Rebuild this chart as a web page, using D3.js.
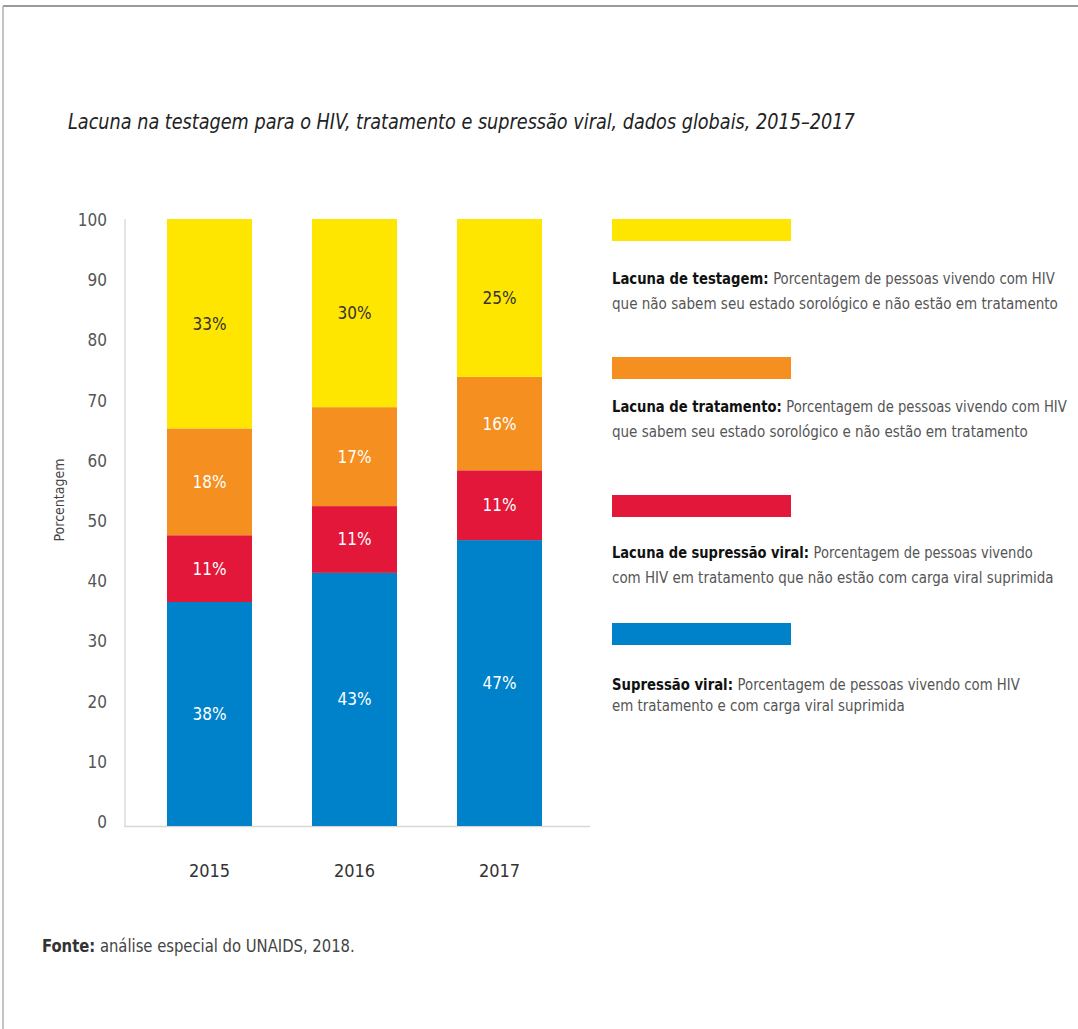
<!DOCTYPE html>
<html>
<head>
<meta charset="utf-8">
<script src="https://cdn.jsdelivr.net/npm/d3@7"></script>
<style>
  html, body { margin: 0; padding: 0; background: #fff; }
  svg { display: block; }
  text { font-family: "Liberation Sans Narrow", "DejaVu Sans Condensed", "Roboto", sans-serif; }
</style>
</head>
<body>
<svg id="chart" width="1078" height="1029"></svg>
<script>
// ---- data ----
const years = ["2015", "2016", "2017"];
const seriesKeys = ["supressao", "lacunaSupressao", "lacunaTratamento", "lacunaTestagem"];
const supressao        = [36.9, 41.7, 47.1];
const lacunaSupressao  = [11.0, 11.0, 11.5];
const lacunaTratamento = [17.6, 16.3, 15.4];
const lacunaTestagem   = [34.5, 31.0, 26.0];
const labelsSupressao        = ["38%", "43%", "47%"];
const labelsLacunaSupressao  = ["11%", "11%", "11%"];
const labelsLacunaTratamento = ["18%", "17%", "16%"];
const labelsLacunaTestagem   = ["33%", "30%", "25%"];
const yTicks = [0, 10, 20, 30, 40, 50, 60, 70, 80, 90, 100];
const titleText = "Lacuna na testagem para o HIV, tratamento e supressão viral, dados globais, 2015–2017";
const yAxisTitle = "Porcentagem";
const legendItems = [
  { key: "lacunaTestagem", bold: "Lacuna de testagem:", lines: ["Porcentagem de pessoas vivendo com HIV", "que não sabem seu estado sorológico e não estão em tratamento"] },
  { key: "lacunaTratamento", bold: "Lacuna de tratamento:", lines: ["Porcentagem de pessoas vivendo com HIV", "que sabem seu estado sorológico e não estão em tratamento"] },
  { key: "lacunaSupressao", bold: "Lacuna de supressão viral:", lines: ["Porcentagem de pessoas vivendo", "com HIV em tratamento que não estão com carga viral suprimida"] },
  { key: "supressao", bold: "Supressão viral:", lines: ["Porcentagem de pessoas vivendo com HIV", "em tratamento e com carga viral suprimida"] }
];
const sourceBold = "Fonte:";
const sourceText = " análise especial do UNAIDS, 2018.";

// ---- styles ----
const colors = {
  supressao: "#0082CA",
  lacunaSupressao: "#E2173A",
  lacunaTratamento: "#F58F20",
  lacunaTestagem: "#FFE600"
};
const labelColors = {
  supressao: "#ffffff",
  lacunaSupressao: "#ffffff",
  lacunaTratamento: "#ffffff",
  lacunaTestagem: "#333333"
};
const valueMap = { supressao, lacunaSupressao, lacunaTratamento, lacunaTestagem };
const labelMap = {
  supressao: labelsSupressao,
  lacunaSupressao: labelsLacunaSupressao,
  lacunaTratamento: labelsLacunaTratamento,
  lacunaTestagem: labelsLacunaTestagem
};

const svg = d3.select("#chart");

// frame
svg.append("line").attr("x1", 3).attr("x2", 1078).attr("y1", 6).attr("y2", 6)
  .attr("stroke", "#9a9a9a").attr("stroke-width", 2);
svg.append("line").attr("x1", 3).attr("x2", 3).attr("y1", 6).attr("y2", 1029)
  .attr("stroke", "#b0b0b0").attr("stroke-width", 1.5);

// helper: fit text to a width by horizontal scaling
function fitText(sel, x, y, width) {
  const node = sel.node();
  const w = node.getComputedTextLength();
  const sx = width / w;
  sel.attr("x", 0).attr("y", 0)
     .attr("transform", `translate(${x},${y}) scale(${sx},1)`);
}

// title
const title = svg.append("text")
  .attr("font-size", 22).attr("font-style", "italic").attr("fill", "#222")
  .text(titleText);
fitText(title, 68, 129, 787);

// scales
const x = d3.scaleBand().domain(years).range([138, 571]).paddingInner(0.414).paddingOuter(0.2);
const y = d3.scaleLinear().domain([0, 100]).range([826, 219]);

// stacked data
const table = years.map((yr, i) => {
  const o = { year: yr, i };
  seriesKeys.forEach(k => o[k] = valueMap[k][i]);
  return o;
});
const stacked = d3.stack().keys(seriesKeys)(table);

// axis lines
svg.append("line").attr("x1", 125).attr("x2", 125).attr("y1", y(100)).attr("y2", y(0))
  .attr("stroke", "#dcdcdc").attr("stroke-width", 1.5);
svg.append("line").attr("x1", 124).attr("x2", 590).attr("y1", y(0) + 0.5).attr("y2", y(0) + 0.5)
  .attr("stroke", "#d8d8d8").attr("stroke-width", 1.5);

// y tick labels
const yLab = d3.scaleLinear().domain([0, 100]).range([822, 220]);
svg.append("g").selectAll("text").data(yTicks).join("text")
  .attr("x", 107).attr("y", d => yLab(d)).attr("dy", "0.35em")
  .attr("text-anchor", "end").attr("font-size", 17).attr("fill", "#555")
  .text(d => d);

// y axis title
svg.append("text")
  .attr("transform", `translate(64,500) rotate(-90)`)
  .attr("text-anchor", "middle").attr("font-size", 14).attr("fill", "#444")
  .text(yAxisTitle);

// bars
const layers = svg.append("g").selectAll("g").data(stacked).join("g")
  .attr("fill", d => colors[d.key]);
layers.selectAll("rect").data(d => d).join("rect")
  .attr("x", d => x(d.data.year))
  .attr("width", x.bandwidth())
  .attr("y", d => y(d[1]))
  .attr("height", d => y(d[0]) - y(d[1]));

// bar labels
stacked.forEach(layer => {
  svg.append("g").selectAll("text").data(layer).join("text")
    .attr("x", d => x(d.data.year) + x.bandwidth() / 2)
    .attr("y", d => (y(d[0]) + y(d[1])) / 2)
    .attr("dy", "0.35em")
    .attr("text-anchor", "middle")
    .attr("font-size", 17)
    .attr("fill", labelColors[layer.key])
    .text(d => labelMap[layer.key][d.data.i]);
});

// x labels
svg.append("g").selectAll("text").data(years).join("text")
  .attr("x", d => x(d) + x.bandwidth() / 2).attr("y", 877)
  .attr("text-anchor", "middle").attr("font-size", 18).attr("fill", "#333")
  .text(d => d);

// legend
const swatchY = [219, 357, 495, 623];
const lineY = [[284, 309], [412, 437], [558, 583], [690, 711]];
const lineW = [[443, 446], [455, 416], [421, 442], [408, 293]];
legendItems.forEach((it, i) => {
  svg.append("rect").attr("x", 612).attr("y", swatchY[i]).attr("width", 179).attr("height", 22)
    .attr("fill", colors[it.key]);
  const t1 = svg.append("text").attr("font-size", 16);
  t1.append("tspan").attr("font-weight", "bold").attr("fill", "#111").text(it.bold + " ");
  t1.append("tspan").attr("fill", "#555").text(it.lines[0]);
  fitText(t1, 612, lineY[i][0], lineW[i][0]);
  const t2 = svg.append("text").attr("font-size", 16).attr("fill", "#555").text(it.lines[1]);
  fitText(t2, 612, lineY[i][1], lineW[i][1]);
});

// source
const src = svg.append("text").attr("font-size", 17);
src.append("tspan").attr("font-weight", "bold").attr("fill", "#333").text(sourceBold);
src.append("tspan").attr("fill", "#444").text(sourceText);
fitText(src, 42, 952, 313);
</script>
</body>
</html>
